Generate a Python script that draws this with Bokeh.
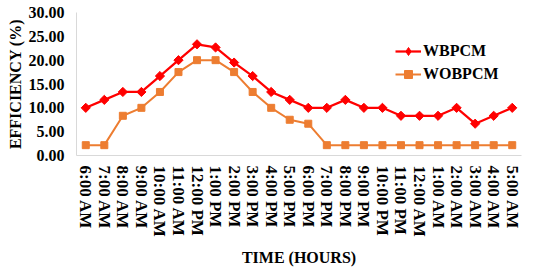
import math
from bokeh.plotting import figure
from bokeh.models import (FactorRange, Range1d, NumeralTickFormatter, FixedTicker, Legend,
                          LegendItem, ColumnDataSource)
from bokeh.embed import file_html
from bokeh.resources import INLINE

times = ["6:00 AM", "7:00 AM", "8:00 AM", "9:00 AM", "10:00 AM", "11:00 AM",
         "12:00 PM", "1:00 PM", "2:00 PM", "3:00 PM", "4:00 PM", "5:00 PM",
         "6:00 PM", "7:00 PM", "8:00 PM", "9:00 PM", "10:00 PM", "11:00 PM",
         "12:00 AM", "1:00 AM", "2:00 AM", "3:00 AM", "4:00 AM", "5:00 AM"]
wbpcm = [10.00, 11.67, 13.33, 13.33, 16.67, 20.00, 23.33, 22.67, 19.50, 16.67, 13.33, 11.67,
         10.00, 10.00, 11.67, 10.00, 10.00, 8.33, 8.33, 8.33, 10.00, 6.67, 8.33, 10.00]
wobpcm = [2.17, 2.17, 8.33, 10.00, 13.33, 17.50, 20.00, 20.00, 17.50, 13.33, 10.00, 7.50,
          6.67, 2.17, 2.17, 2.17, 2.17, 2.17, 2.17, 2.17, 2.17, 2.17, 2.17, 2.17]
y_ticks = [0, 5, 10, 15, 20, 25, 30]

FONT = "Liberation Serif"
RED = "#FF0000"
ORANGE = "#ED7D31"

src = ColumnDataSource(dict(t=times, wb=wbpcm, wob=wobpcm))

p = figure(width=538, height=276, x_range=FactorRange(*times), y_range=Range1d(0, 30),
           output_backend="svg", toolbar_location=None,
           min_border_left=76, min_border_right=17, min_border_top=12, min_border_bottom=121)
p.outline_line_color = None
p.xgrid.visible = False
p.ygrid.visible = False
p.background_fill_color = "white"
p.border_fill_color = "white"
# off-screen range used only to host the legend's diamond glyph
p.extra_y_ranges = {"legend_only": Range1d(1000, 2000)}

l1 = p.line("t", "wb", source=src, line_color=RED, line_width=2.25)
s1 = p.scatter("t", "wb", source=src, marker="square", angle=math.pi / 4, size=6.5,
               fill_color=RED, line_color=RED)
l2 = p.line("t", "wob", source=src, line_color=ORANGE, line_width=2)
s2 = p.scatter("t", "wob", source=src, marker="square", size=7,
               fill_color=ORANGE, line_color=ORANGE)
s1_leg = p.scatter("t", "wb", source=src, y_range_name="legend_only",
                   marker="diamond", size=10, fill_color=RED, line_color=RED)

# y axis
ya = p.yaxis[0]
ya.ticker = FixedTicker(ticks=y_ticks)
ya.formatter = NumeralTickFormatter(format="0.00")
ya.axis_line_color = "#D9D9D9"
ya.major_tick_line_color = None
ya.minor_tick_line_color = None
ya.major_tick_out = 0
ya.major_tick_in = 0
ya.major_label_standoff = 12
ya.major_label_text_font = FONT
ya.major_label_text_font_style = "bold"
ya.major_label_text_font_size = "16px"
ya.major_label_text_color = "black"
ya.axis_label = "EFFICIENCY (%)"
ya.axis_label_text_font = FONT
ya.axis_label_text_font_style = "bold"
ya.axis_label_text_font_size = "16px"
ya.axis_label_text_color = "black"
ya.axis_label_standoff = 2

# x axis
xa = p.xaxis[0]
xa.axis_line_color = "#D9D9D9"
xa.major_tick_line_color = None
xa.minor_tick_line_color = None
xa.major_tick_out = 0
xa.major_tick_in = 0
xa.major_label_standoff = 10
xa.major_label_orientation = "vertical"
xa.major_label_text_font = FONT
xa.major_label_text_font_style = "bold"
xa.major_label_text_font_size = "17px"
xa.major_label_text_color = "black"
xa.axis_label = "TIME (HOURS)"
xa.axis_label_text_font = FONT
xa.axis_label_text_font_style = "bold"
xa.axis_label_text_font_size = "16px"
xa.axis_label_text_color = "black"
xa.axis_label_standoff = 8

legend = Legend(items=[LegendItem(label="WBPCM", renderers=[l1, s1_leg]),
                       LegendItem(label="WOBPCM", renderers=[l2, s2])],
                location=(319, 71), orientation="vertical",
                glyph_width=26, glyph_height=20, label_height=20, spacing=3,
                label_standoff=2, padding=0, margin=0,
                border_line_color=None, background_fill_alpha=0,
                label_text_font=FONT, label_text_font_style="bold",
                label_text_font_size="16px", label_text_color="black")
p.add_layout(legend)

open("out.html", "w").write(file_html(p, INLINE))
